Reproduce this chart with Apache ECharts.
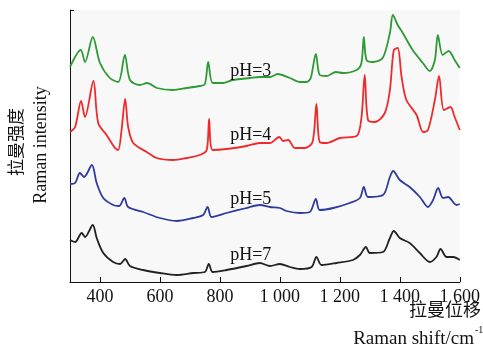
<!DOCTYPE html>
<html>
<head>
<meta charset="utf-8">
<script src="https://cdn.jsdelivr.net/npm/echarts@6/dist/echarts.min.js"></script>
<style>
  html, body { margin: 0; padding: 0; background: #fff; }
  #chart { width: 483px; height: 351px; }
</style>
</head>
<body>
<div id="chart"></div>
<script>
// Raman shift (cm-1) vs. intensity (arbitrary, stacked offsets as drawn)
const ph3 = [
  [300, 215], [336, 232], [350, 220], [376, 245], [400, 219], [433, 204], [461, 200],
  [483, 227], [500, 202], [533, 197], [557, 199], [590, 194], [643, 192], [690, 194],
  [733, 196], [750, 198], [761, 220], [776, 199], [810, 199], [843, 202], [900, 204],
  [933, 205], [967, 205], [993, 208], [1033, 204], [1067, 200], [1089, 200], [1103, 204],
  [1120, 228], [1133, 207], [1156, 206], [1187, 210], [1210, 209], [1256, 212], [1272, 219],
  [1280, 245], [1289, 222], [1310, 220], [1343, 224], [1367, 249], [1377, 267], [1393, 257],
  [1410, 249], [1443, 232], [1477, 219], [1500, 211], [1517, 222], [1527, 247], [1543, 227],
  [1563, 231], [1583, 222], [1600, 214]
]
const ph4 = [
  [300, 150], [317, 155], [337, 181], [350, 165], [378, 201], [394, 159], [422, 147],
  [450, 134], [461, 132], [472, 152], [484, 183], [494, 155], [511, 139], [556, 130],
  [589, 124], [644, 122], [689, 124], [733, 127], [756, 132], [764, 163], [776, 132],
  [822, 133], [889, 136], [933, 139], [967, 139], [998, 145], [1011, 141], [1028, 142],
  [1050, 134], [1083, 134], [1109, 140], [1122, 178], [1133, 140], [1156, 139], [1200, 144],
  [1256, 146], [1272, 164], [1283, 207], [1294, 162], [1317, 160], [1350, 169], [1367, 192],
  [1380, 232], [1393, 234], [1406, 205], [1422, 182], [1456, 167], [1478, 150], [1494, 152],
  [1517, 182], [1531, 206], [1547, 172], [1569, 175], [1583, 165], [1600, 152]
]
const ph5 = [
  [300, 98], [317, 99], [333, 109], [347, 105], [373, 117], [389, 99], [411, 84],
  [444, 77], [464, 76], [481, 84], [494, 75], [544, 70], [600, 64], [656, 61],
  [711, 64], [744, 67], [759, 75], [772, 65], [822, 69], [889, 74], [933, 77],
  [967, 75], [1000, 74], [1022, 71], [1067, 69], [1100, 70], [1120, 83], [1133, 72],
  [1178, 74], [1233, 79], [1267, 84], [1280, 95], [1294, 85], [1344, 87], [1367, 105],
  [1378, 111], [1400, 102], [1433, 95], [1467, 85], [1494, 75], [1511, 82], [1528, 94],
  [1544, 84], [1561, 85], [1589, 77], [1600, 78]
]
const ph7 = [
  [300, 42], [317, 40], [339, 49], [350, 45], [376, 57], [389, 44], [411, 29],
  [444, 20], [467, 18], [484, 23], [500, 16], [544, 12], [600, 9], [656, 7],
  [711, 9], [750, 10], [763, 18], [776, 10], [822, 12], [889, 16], [933, 19],
  [967, 16], [1000, 18], [1033, 15], [1067, 13], [1106, 15], [1122, 25], [1139, 17],
  [1189, 19], [1244, 22], [1267, 27], [1287, 35], [1300, 29], [1344, 30], [1367, 44],
  [1380, 51], [1400, 44], [1433, 39], [1467, 29], [1500, 20], [1522, 25], [1536, 33],
  [1556, 25], [1578, 25], [1600, 22]
]
const seriesNames = ['pH=3', 'pH=4', 'pH=5', 'pH=7']
const xTicks = [400, 600, 800, 1000, 1200, 1400, 1600]

const serif = '"Liberation Serif", "DejaVu Serif", serif'
const cjk = '"Noto Sans CJK SC", sans-serif'

function makeLine(name, data, color, labelAt) {
  return {
    name: name,
    type: 'line',
    data: data,
    symbol: 'none',
    smooth: 0.3,
    lineStyle: { color: color, width: 1.8 },
    silent: true,
    markPoint: {
      symbol: 'rect',
      symbolSize: 1,
      itemStyle: { color: 'rgba(0,0,0,0)' },
      label: {
        show: true,
        position: 'inside',
        formatter: name,
        fontFamily: serif,
        fontSize: 18,
        color: '#111'
      },
      data: [{ coord: labelAt }]
    }
  }
}

const chart = echarts.init(document.getElementById('chart'), null, { renderer: 'canvas' })

const option = {
  animation: false,
  grid: {
    left: 70,
    right: 22,
    top: 10,
    bottom: 69,
    show: true,
    backgroundColor: '#f8f8f8',
    borderWidth: 0
  },
  xAxis: {
    type: 'value',
    min: 300,
    max: 1600,
    axisLine: { show: true, lineStyle: { color: '#111', width: 1 } },
    axisTick: {
      show: true,
      inside: true,
      length: 5,
      customValues: xTicks,
      lineStyle: { color: '#111' }
    },
    axisLabel: {
      customValues: xTicks,
      formatter: v => v >= 1000 ? String(v).replace(/^(\d)(\d{3})$/, '$1 $2') : String(v),
      fontFamily: serif,
      fontSize: 18,
      color: '#111',
      margin: 6
    },
    splitLine: { show: false }
  },
  yAxis: {
    type: 'value',
    min: 0,
    max: 272,
    axisLine: { show: true, lineStyle: { color: '#111', width: 1 } },
    axisTick: {
      show: true,
      inside: true,
      length: 4,
      customValues: [272],
      lineStyle: { color: '#111' }
    },
    axisLabel: { show: false },
    splitLine: { show: false }
  },
  graphic: [
    {
      type: 'text',
      x: 16,
      y: 142,
      rotation: Math.PI / 2,
      style: {
        text: '拉曼强度',
        font: '17px ' + cjk,
        fill: '#111',
        align: 'center',
        verticalAlign: 'middle'
      }
    },
    {
      type: 'text',
      x: 41,
      y: 145,
      rotation: Math.PI / 2,
      style: {
        text: 'Raman intensity',
        font: '18px ' + serif,
        fill: '#111',
        align: 'center',
        verticalAlign: 'middle'
      }
    },
    {
      type: 'text',
      x: 481,
      y: 309,
      style: {
        text: '拉曼位移',
        font: '18px ' + cjk,
        fill: '#111',
        align: 'right',
        verticalAlign: 'middle'
      }
    },
    {
      type: 'text',
      x: 474,
      y: 339,
      style: {
        text: 'Raman shift/cm',
        font: '19px ' + serif,
        fill: '#111',
        align: 'right',
        verticalAlign: 'middle'
      }
    },
    {
      type: 'text',
      x: 475,
      y: 330,
      style: {
        text: '-1',
        font: '10px ' + serif,
        fill: '#111',
        align: 'left',
        verticalAlign: 'middle'
      }
    }
  ],
  series: [
    makeLine(seriesNames[0], ph3, '#2e9a35', [903, 211]),
    makeLine(seriesNames[1], ph4, '#ee2a2a', [903, 147]),
    makeLine(seriesNames[2], ph5, '#2f3a9e', [903, 83]),
    makeLine(seriesNames[3], ph7, '#222222', [903, 27])
  ]
}

chart.setOption(option)
</script>
</body>
</html>
